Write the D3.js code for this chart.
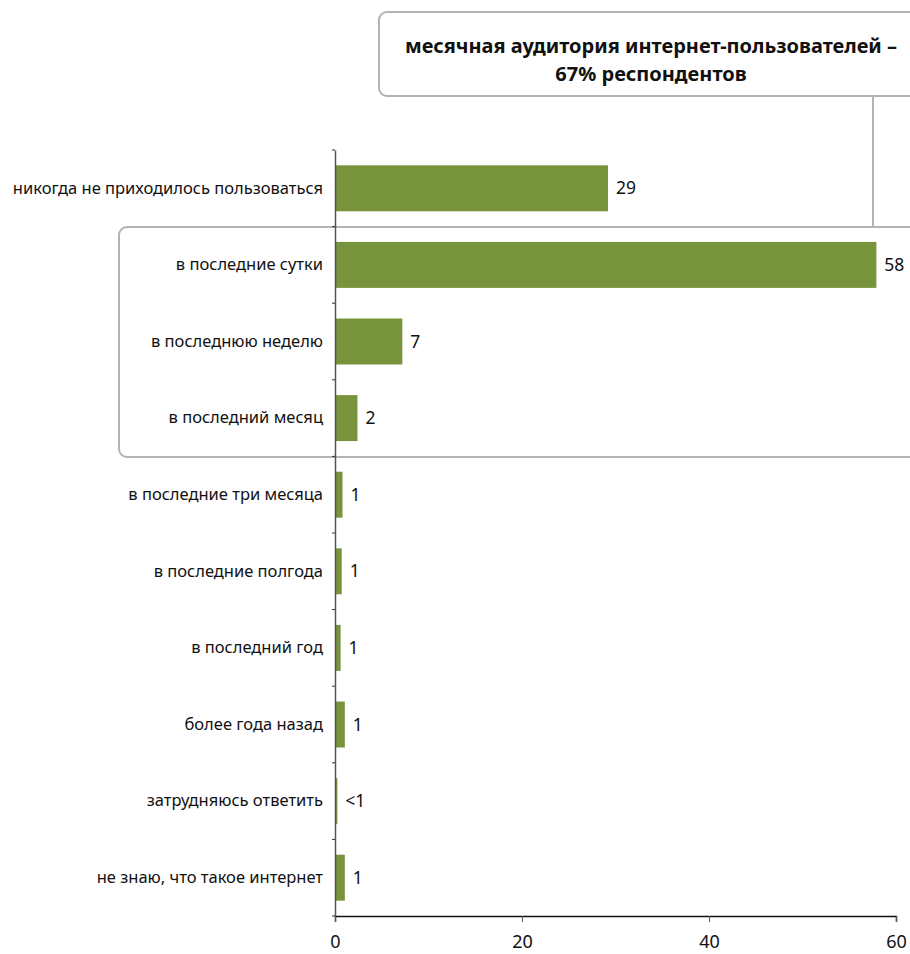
<!DOCTYPE html>
<html><head><meta charset="utf-8">
<script src="https://cdn.jsdelivr.net/npm/d3@7"></script>
<style>body{margin:0;background:#fff;}svg{display:block;font-family:"Noto Sans",sans-serif;}</style>
</head><body>
<svg id="chart" width="910" height="954"></svg>
<script>
const categories = ["никогда не приходилось пользоваться","в последние сутки","в последнюю неделю","в последний месяц","в последние три месяца","в последние полгода","в последний год","более года назад","затрудняюсь ответить","не знаю, что такое интернет"];
const values = [29.2, 57.9, 7.2, 2.4, 0.8, 0.72, 0.6, 1.05, 0.25, 1.05];
const valueLabels = ["29","58","7","2","1","1","1","1","<1","1"];
const xTicks = [0, 20, 40, 60];
const calloutLines = ["месячная аудитория интернет-пользователей –","67% респондентов"];

const svg = d3.select("#chart");
const x = d3.scaleLinear().domain([0,60]).range([335,896]);
const y = d3.scaleBand().domain(categories).range([150,916]).paddingInner(0.4).paddingOuter(0.2);

// callout boxes
const g0 = svg.append("g");
g0.append("rect").attr("x",379).attr("y",12).attr("width",600).attr("height",84).attr("rx",8)
  .attr("fill","#fff").attr("stroke","#b3b3b3").attr("stroke-width",2);
g0.append("line").attr("x1",873).attr("x2",873).attr("y1",96).attr("y2",227).attr("stroke","#b3b3b3").attr("stroke-width",2);
g0.append("rect").attr("x",119).attr("y",227).attr("width",850).attr("height",230).attr("rx",8)
  .attr("fill","none").attr("stroke","#b3b3b3").attr("stroke-width",2);
g0.selectAll("text.cl").data(calloutLines).join("text").attr("class","cl")
  .attr("x",651).attr("y",(d,i)=>53+i*28).attr("text-anchor","middle")
  .attr("font-weight","bold").attr("font-size",20).attr("fill","#111").text(d=>d);

// bars
svg.append("g").selectAll("rect").data(categories).join("rect")
  .attr("x",x(0)).attr("y",d=>y(d)).attr("height",y.bandwidth())
  .attr("width",(d,i)=>x(values[i])-x(0)).attr("fill","#77933c");

// value labels
svg.append("g").selectAll("text").data(categories).join("text")
  .attr("x",(d,i)=>x(values[i])+8).attr("y",d=>y(d)+y.bandwidth()/2).attr("dy","0.35em")
  .attr("font-size",17.5).attr("fill","#111").text((d,i)=>valueLabels[i]);

// y axis
const yAxis = d3.axisLeft(y).tickSize(0).tickPadding(12);
const ya = svg.append("g").attr("transform",`translate(${x(0)},0)`).call(yAxis);
ya.select(".domain").attr("stroke","#555").attr("stroke-width",1.5);
ya.selectAll("text").attr("font-size",16.5).attr("fill","#111").attr("font-family","'Noto Sans',sans-serif");
// boundary ticks
const step = y.step();
const bounds = d3.range(categories.length+1).map(i=>150+i*step);
ya.selectAll("line.bt").data(bounds).join("line").attr("class","bt")
  .attr("x1",-3).attr("x2",0).attr("y1",d=>d).attr("y2",d=>d).attr("stroke","#333");

// x axis
const xa = svg.append("g").attr("transform","translate(0,916)")
  .call(d3.axisBottom(x).tickValues(xTicks).tickSize(6).tickPadding(13));
xa.select(".domain").attr("stroke","#111").attr("stroke-width",1.5);
xa.selectAll(".tick line").attr("stroke","#555");
xa.selectAll("text").attr("font-size",18).attr("fill","#111").attr("font-family","'Noto Sans',sans-serif");
</script>
</body></html>
